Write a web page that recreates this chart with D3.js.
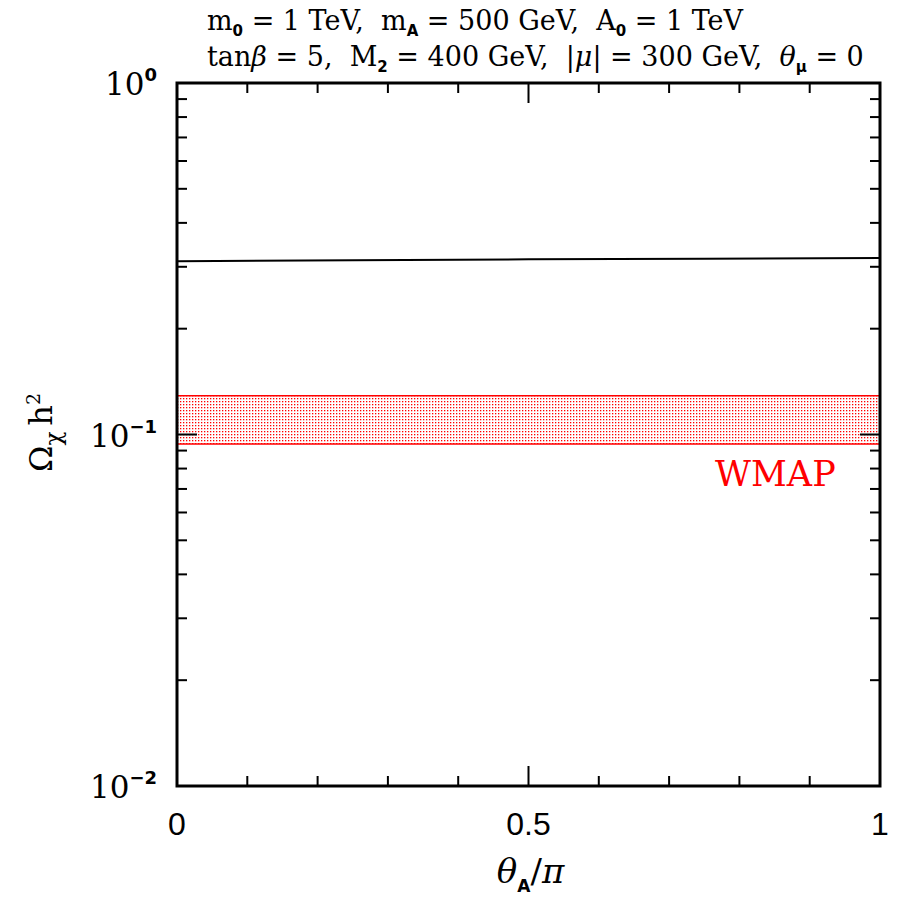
<!DOCTYPE html>
<html>
<head>
<meta charset="utf-8">
<script src="https://cdn.jsdelivr.net/npm/d3@7"></script>
<style>
  body { margin: 0; background: #fff; }
  svg { display: block; }
</style>
</head>
<body>
<div id="chart"></div>
<script>
// Données
const thetaA = [0, 0.25, 0.5, 0.75, 1];
const omegaH2 = [0.311, 0.313, 0.315, 0.316, 0.318];
const wmapBand = [0.094, 0.129];
const xMajorTicks = [0, 0.5, 1];
const xMinorTicks = [0.1, 0.2, 0.3, 0.4, 0.6, 0.7, 0.8, 0.9];
const yMajorTicks = [1e-2, 1e-1, 1];
const yTickExp = ["-2", "-1", "0"];

const W = 899, H = 898;
const margin = { top: 83, right: 19, bottom: 112, left: 177 };
const width = W - margin.left - margin.right;
const height = H - margin.top - margin.bottom;

const svg = d3.select("#chart").append("svg")
    .attr("width", W)
    .attr("height", H);

const g = svg.append("g")
    .attr("transform", `translate(${margin.left},${margin.top})`);

// Échelles
const x = d3.scaleLinear().domain([0, 1]).range([0, width]);
const y = d3.scaleLog().domain([1e-2, 1]).range([height, 0]);

// Motif pointillé pour la bande WMAP
const defs = svg.append("defs");
const pat = defs.append("pattern")
    .attr("id", "dots")
    .attr("width", 3)
    .attr("height", 3)
    .attr("patternUnits", "userSpaceOnUse");
pat.append("rect").attr("width", 3).attr("height", 3).attr("fill", "#fff");
pat.append("rect").attr("width", 1.3).attr("height", 1.3).attr("fill", "#f00");

g.append("rect")
    .attr("x", x(0))
    .attr("y", y(wmapBand[1]))
    .attr("width", x(1) - x(0))
    .attr("height", y(wmapBand[0]) - y(wmapBand[1]))
    .attr("fill", "url(#dots)");

wmapBand.forEach(v => {
  g.append("line")
      .attr("x1", x(0)).attr("x2", x(1))
      .attr("y1", y(v)).attr("y2", y(v))
      .attr("stroke", "#f00")
      .attr("stroke-width", 1.5);
});

g.append("text")
    .attr("x", x(0.937))
    .attr("y", y(0.0712))
    .attr("text-anchor", "end")
    .attr("font-family", "'DejaVu Serif', serif")
    .attr("font-size", "35px")
    .attr("fill", "#f00")
    .text("WMAP");

// Courbe
const line = d3.line()
    .x(d => x(d[0]))
    .y(d => y(d[1]));

g.append("path")
    .datum(thetaA.map((t, i) => [t, omegaH2[i]]))
    .attr("d", line)
    .attr("fill", "none")
    .attr("stroke", "#000")
    .attr("stroke-width", 2);

// Graduations (vers l'intérieur, sur les 4 côtés)
const ticks = g.append("g").attr("stroke", "#000").attr("stroke-width", 2);

const yMinor = [];
[1e-2, 1e-1].forEach(dec => {
  for (let k = 2; k <= 9; k++) yMinor.push(dec * k);
});

yMajorTicks.forEach(v => {
  ticks.append("line").attr("x1", 0).attr("x2", 20).attr("y1", y(v)).attr("y2", y(v));
  ticks.append("line").attr("x1", width).attr("x2", width - 20).attr("y1", y(v)).attr("y2", y(v));
});
yMinor.forEach(v => {
  ticks.append("line").attr("x1", 0).attr("x2", 10).attr("y1", y(v)).attr("y2", y(v));
  ticks.append("line").attr("x1", width).attr("x2", width - 10).attr("y1", y(v)).attr("y2", y(v));
});
xMajorTicks.forEach(v => {
  ticks.append("line").attr("x1", x(v)).attr("x2", x(v)).attr("y1", height).attr("y2", height - 20);
  ticks.append("line").attr("x1", x(v)).attr("x2", x(v)).attr("y1", 0).attr("y2", 20);
});
xMinorTicks.forEach(v => {
  ticks.append("line").attr("x1", x(v)).attr("x2", x(v)).attr("y1", height).attr("y2", height - 10);
  ticks.append("line").attr("x1", x(v)).attr("x2", x(v)).attr("y1", 0).attr("y2", 10);
});

// Cadre
g.append("rect")
    .attr("width", width)
    .attr("height", height)
    .attr("fill", "none")
    .attr("stroke", "#000")
    .attr("stroke-width", 3);

// Étiquettes de l'axe x
g.selectAll(".xlab")
    .data(xMajorTicks)
    .enter()
    .append("text")
    .attr("x", d => x(d))
    .attr("y", height + 49)
    .attr("text-anchor", "middle")
    .attr("font-family", "'Liberation Sans', sans-serif")
    .attr("font-size", "32px")
    .text(d => d === 0.5 ? "0.5" : String(d));

// Étiquettes de l'axe y (puissances de 10)
yMajorTicks.forEach((v, i) => {
  const t = g.append("text")
      .attr("x", -20)
      .attr("y", y(v) + 12)
      .attr("text-anchor", "end")
      .attr("font-family", "'DejaVu Serif', serif")
      .attr("font-size", "31px");
  t.append("tspan").text("10");
  t.append("tspan")
      .attr("dy", -14)
      .attr("font-size", "18px")
      .attr("font-family", "'DejaVu Sans', sans-serif")
      .attr("font-weight", "bold")
      .text(yTickExp[i] === "0" ? "0" : "\u2212" + yTickExp[i].slice(1));
});

// Titre de l'axe x
const xt = svg.append("text")
    .attr("x", margin.left + width / 2 + 2)
    .attr("y", 883)
    .attr("text-anchor", "middle")
    .attr("font-family", "'DejaVu Serif', serif")
    .attr("font-size", "34px");
xt.append("tspan").attr("font-style", "italic").text("\u03b8");
xt.append("tspan").attr("dy", 9).attr("font-size", "17px")
    .attr("font-family", "'DejaVu Sans', sans-serif").attr("font-weight", "bold").text("A");
xt.append("tspan").attr("dy", -9).text("/");
xt.append("tspan").attr("font-style", "italic").text("\u03c0");

// Titre de l'axe y
const yt = svg.append("text")
    .attr("transform", `translate(52,${margin.top + height / 2 - 2}) rotate(-90)`)
    .attr("text-anchor", "middle")
    .attr("font-family", "'DejaVu Serif', serif")
    .attr("font-size", "32px");
yt.append("tspan").text("\u03a9");
yt.append("tspan").attr("dy", 9).attr("font-size", "23px").text("\u03c7");
yt.append("tspan").attr("dy", -9).attr("dx", 6).text("h");
yt.append("tspan").attr("dy", -12).attr("font-size", "19px").text("2");

// En-tête : paramètres
const font = "'DejaVu Serif', serif";
function addSub(t, txt) {
  t.append("tspan").attr("dy", 6).attr("font-size", "15px")
      .attr("font-family", "'DejaVu Sans', sans-serif").attr("font-weight", "bold").text(txt);
}

const l1 = svg.append("text")
    .attr("x", 207).attr("y", 30)
    .attr("font-family", font)
    .attr("font-size", "27px")
    .attr("xml:space", "preserve");
l1.append("tspan").text("m");
addSub(l1, "0");
l1.append("tspan").attr("dy", -6).text(" = 1 TeV,  m");
addSub(l1, "A");
l1.append("tspan").attr("dy", -6).text(" = 500 GeV,  A");
addSub(l1, "0");
l1.append("tspan").attr("dy", -6).text(" = 1 TeV");

const l2 = svg.append("text")
    .attr("x", 207).attr("y", 66)
    .attr("font-family", font)
    .attr("font-size", "27px")
    .attr("xml:space", "preserve");
l2.append("tspan").text("tan");
l2.append("tspan").attr("font-style", "italic").text("\u03b2");
l2.append("tspan").text(" = 5,  M");
addSub(l2, "2");
l2.append("tspan").attr("dy", -6).text(" = 400 GeV,  |");
l2.append("tspan").attr("font-style", "italic").text("\u03bc");
l2.append("tspan").text("| = 300 GeV,  ");
l2.append("tspan").attr("font-style", "italic").text("\u03b8");
addSub(l2, "\u03bc");
l2.append("tspan").attr("dy", -6).text(" = 0");
</script>
</body>
</html>
